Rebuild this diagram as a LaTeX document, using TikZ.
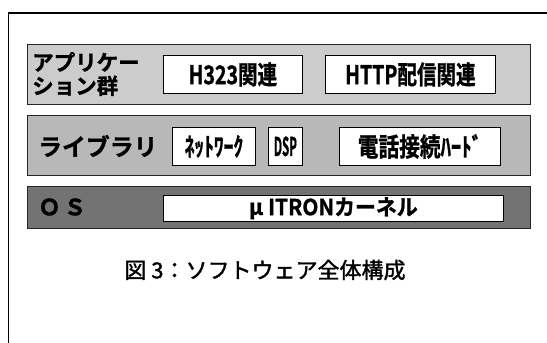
\documentclass[tikz,border=0pt]{standalone}
\usepackage{fontspec}
\newfontfamily\jp{Noto Sans CJK JP}[BoldFont={* Bold}, BoldFeatures={FakeBold=1.2}]
\newfontfamily\jps{Noto Sans CJK JP}[FakeBold=1.5]
\tikzset{
  band/.style={draw=black!85, line width=0.8pt, anchor=north west, inner sep=0pt},
  wbox/.style={draw=black, fill=white, line width=0.8pt, anchor=north west, inner sep=0pt},
  lbl/.style={font=\jp\bfseries\fontsize{22.5}{25}\selectfont, inner sep=0pt},
  blbl/.style={font=\jp\bfseries\fontsize{23}{25}\selectfont, inner sep=0pt},
}
\begin{document}
\begin{tikzpicture}[x=1pt,y=-1pt]
\useasboundingbox (0,0) rectangle (547,343);
% outer frame
\draw[line width=1.4pt] (547,13) -- (8.5,13) -- (8.5,343);
% bands
\node[band, fill=black!20, minimum width=503pt, minimum height=60pt] (app) at (27,44) {};
\node[band, fill=black!28, minimum width=503pt, minimum height=60pt] (lib) at (27,115) {};
\node[band, fill=black!55, minimum width=503pt, minimum height=42pt] (os) at (27,186) {};
% band labels
\node[lbl, anchor=west, align=left, font=\jp\bfseries\fontsize{21.5}{23.5}\selectfont] (applbl) at (32,74) {アプリケー\\ション群};
\node[lbl, anchor=west] (liblbl) at (38,146) {\scalebox{1.06}[1.05]{ライブラリ}};
\node[lbl, anchor=west] (oslbl) at (38,207) {Ｏ\hspace{3pt}Ｓ};
% boxes
\node[wbox, minimum width=139pt, minimum height=38pt] (h323) at (163,55) {};
\node[blbl] at (h323.center) {\scalebox{0.85}[1.12]{H323関連}};
\node[wbox, minimum width=170pt, minimum height=38pt] (http) at (325,55) {};
\node[blbl] at (http.center) {\scalebox{0.85}[1.12]{HTTP配信関連}};
\node[wbox, minimum width=83pt, minimum height=38pt] (net) at (172,127) {};
\node[blbl] at (net.center) {\scalebox{0.85}[1.12]{ﾈｯﾄﾜｰｸ}};
\node[wbox, minimum width=34pt, minimum height=38pt] (dsp) at (268,127) {};
\node[blbl] at (dsp.center) {\scalebox{0.5}[1.12]{DSP}};
\node[wbox, minimum width=161pt, minimum height=38pt] (tel) at (339,127) {};
\node[blbl] at (tel.center) {\scalebox{0.9}[1.12]{電話接続ﾊｰﾄﾞ}};
\node[wbox, minimum width=340pt, minimum height=26pt] (kern) at (163,195) {};
\node[blbl, font=\jp\bfseries\fontsize{22}{24}\selectfont] at (kern.center) {\scalebox{0.95}[1]{\textit{μ}\hspace{5pt}ITRONカーネル}};
% caption
\node[font=\jps\fontsize{22}{24}\selectfont, inner sep=0pt] (cap) at (265,270) {図 3：ソフトウェア全体構成};
\end{tikzpicture}
\end{document}
